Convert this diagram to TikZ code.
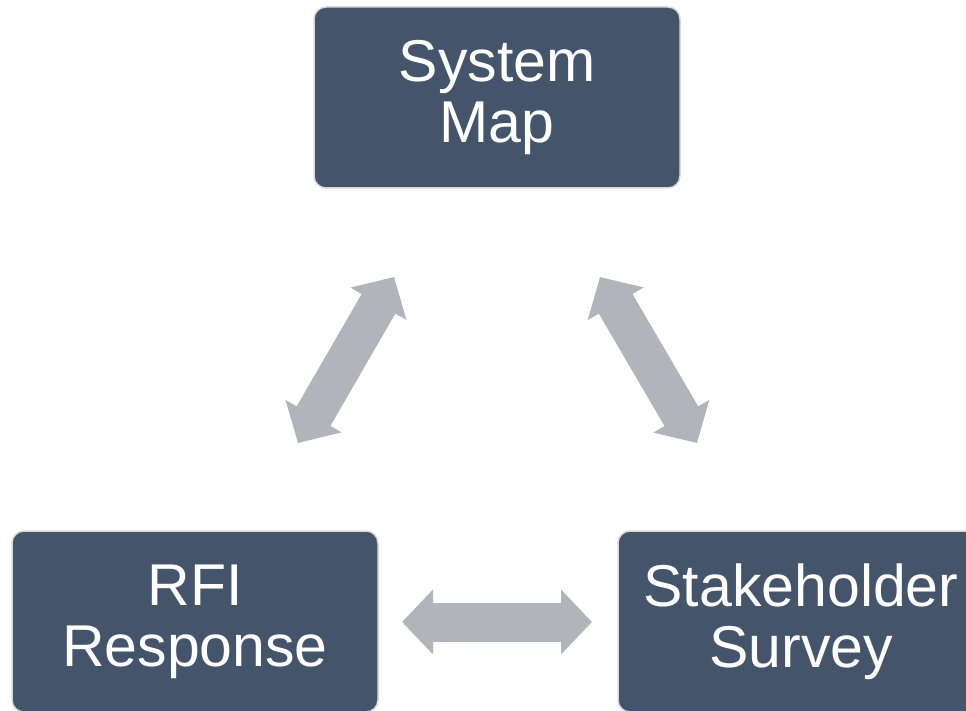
\documentclass[tikz,border=0pt]{standalone}
\usepackage{fontspec}
\setmainfont{Liberation Sans}
\usepackage{tikz}
\usetikzlibrary{arrows.meta}
\usepackage{xcolor}
\definecolor{ColBox}{HTML}{44546A}
\definecolor{ColLine}{HTML}{D9D9D9}
\definecolor{ColArrow}{HTML}{B1B4BA}
\tikzstyle{NodeBox}=[rectangle,rounded corners=12pt,draw=ColLine,line width=1.5pt,fill=ColBox,
text=white,align=center,inner sep=0pt,minimum width=366pt,minimum height=181pt,
font=\fontsize{59}{61}\selectfont]
\tikzstyle{EdgeArrow}=[ColArrow,line width=39pt,line cap=butt,
arrows={Triangle[width=63pt,length=31pt]-Triangle[width=63pt,length=31pt]}]

\begin{document}
\begin{tikzpicture}[x=1pt,y=-1pt]
        \useasboundingbox(0,0)rectangle(966,711);
        \clip(0,0)rectangle(966,711);
        \node[NodeBox](map)at(497,97.5){System\\Map};
        \node[NodeBox](rfi)at(195,621.5){RFI\\Response};
        \node[NodeBox](survey)at(801,621.5){Stakeholder\\Survey};
        \coordinate(l1)at(394,277);
        \coordinate(l2)at(298,443);
        \coordinate(r1)at(600,277);
        \coordinate(r2)at(697,443);
        \coordinate(b1)at(402,622);
        \coordinate(b2)at(592,622);
        \draw[EdgeArrow](l1)--(l2);
        \draw[EdgeArrow](r1)--(r2);
        \draw[EdgeArrow](b1)--(b2);
    \end{tikzpicture}
\end{document}
